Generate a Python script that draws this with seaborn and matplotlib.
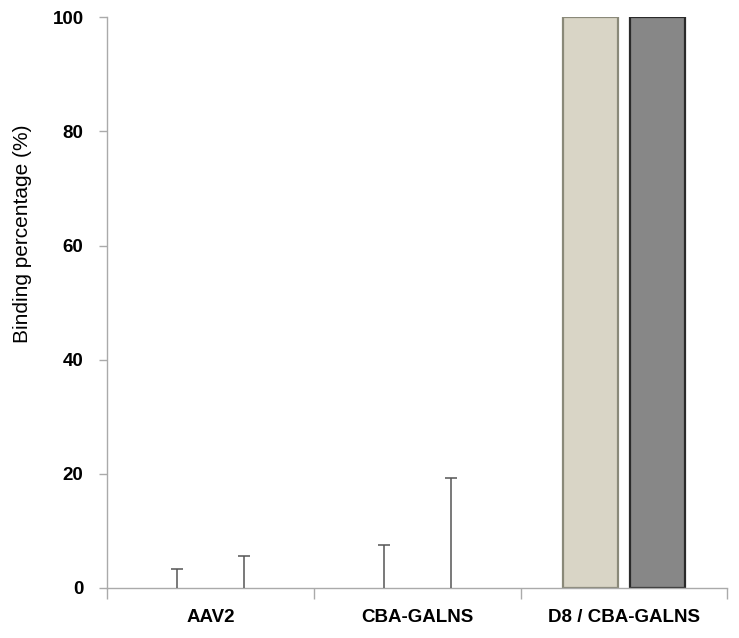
import seaborn as sns
import pandas as pd
import matplotlib.pyplot as plt

groups = ["AAV2", "CBA-GALNS", "D8 / CBA-GALNS"]
series = ["Series 1", "Series 2"]
values_s1 = [0, 0, 100]
values_s2 = [0, 0, 100]
errors_s1 = [3.3, 7.5, 0.2]
errors_s2 = [5.6, 19.3, 0.2]

fill_colors = ["#dcd7c3", "#878787"]
edge_colors = ["#8a8979", "#2a2a2a"]

df = pd.DataFrame({
    "group": groups * 2,
    "series": [series[0]] * 3 + [series[1]] * 3,
    "value": values_s1 + values_s2,
    "err": errors_s1 + errors_s2,
})

sns.set_style("white")
plt.rcParams["font.family"] = ["Liberation Sans", "DejaVu Sans"]
plt.rcParams["text.color"] = "black"
plt.rcParams["xtick.labelcolor"] = "black"
plt.rcParams["ytick.labelcolor"] = "black"
plt.rcParams["axes.labelcolor"] = "black"

fig = plt.figure(figsize=(7.39, 6.38), dpi=100)
ax = fig.add_axes([0.145, 0.0784, 0.839, 0.8946])

res = sns.barplot(data=df, x="group", y="value", hue="series", palette=fill_colors,
                  width=0.65, gap=0.18, errorbar=None, legend=False, ax=ax)

# patches come out hue by hue, same order as df rows
for p, (_, row), ec in zip(res.patches, df.iterrows(), [edge_colors[0]] * 3 + [edge_colors[1]] * 3):
    xc = p.get_x() + p.get_width() / 2
    if row["value"] > 0:
        p.set_edgecolor(ec)
        p.set_linewidth(1.6)
    else:
        p.set_linewidth(0)
    eb = res.errorbar(xc, row["value"], yerr=[[0], [row["err"]]], fmt="none",
                      ecolor="#555555", elinewidth=1.1, capsize=4, capthick=1.1, zorder=3)
    eb[1][0].set_visible(False)  # only the upper cap

res.set_ylim(0, 100)
res.set_xlim(-0.5, 2.5)
res.set_yticks([0, 20, 40, 60, 80, 100])
res.set_yticklabels(["0", "20", "40", "60", "80", "100"], fontsize=13.5, fontweight="bold")
res.set_xticks([-0.5, 0.5, 1.5, 2.5])
res.set_xticklabels([])
res.set_xticks([0, 1, 2], minor=True)
res.set_xticklabels(groups, minor=True, fontsize=13.5, fontweight="bold")
res.tick_params(axis="x", which="major", direction="out", length=8, width=1, color="#aaaaaa", bottom=True)
res.tick_params(axis="x", which="minor", length=0, pad=15)
res.tick_params(axis="y", direction="out", length=6, width=1, color="#aaaaaa", left=True, pad=11)

for side in ["top", "right"]:
    res.spines[side].set_visible(False)
for side in ["left", "bottom"]:
    res.spines[side].set_color("#aaaaaa")
    res.spines[side].set_linewidth(1)

res.set_xlabel("")
res.set_ylabel("Binding percentage (%)", fontsize=15)
res.yaxis.set_label_coords(-0.122, 0.62)

plt.savefig("out.png", dpi=100)
